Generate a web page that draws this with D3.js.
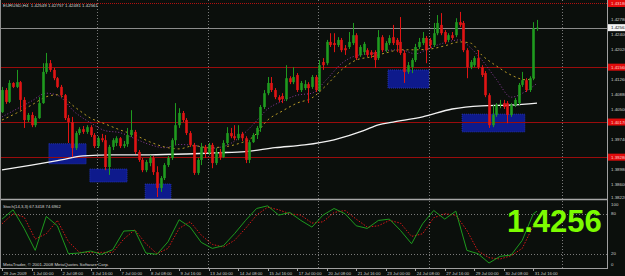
<!DOCTYPE html>
<html>
<head>
<meta charset="utf-8">
<script src="https://cdn.jsdelivr.net/npm/d3@7"></script>
<style>
  html, body { margin: 0; padding: 0; background: #0b0f0c; }
  svg { display: block; }
  text { font-family: "Liberation Sans", Arial, sans-serif; }
</style>
</head>
<body>
<div id="chart"></div>
<script>
// EURUSD H4, one candle per bar, 29 Jun 16:00 .. 31 Jul 20:00 2009
const open = [
  1.4042, 1.4098, 1.4068, 1.4116, 1.4106, 1.4118, 1.4073, 1.4022, 1.4035, 1.4009,
  1.4027, 1.4065, 1.4144, 1.4166, 1.4149, 1.4128, 1.4106, 1.4085, 1.4027, 1.4017,
  1.3951, 1.3989, 1.3999, 1.3992, 1.4004, 1.3984, 1.3956, 1.3976, 1.3971, 1.3903,
  1.3954, 1.3964, 1.3976, 1.3956, 1.3961, 1.3984, 1.3992, 1.3941, 1.3921, 1.3895,
  1.3913, 1.3926, 1.3890, 1.3850, 1.3875, 1.3908, 1.3926, 1.3971, 1.4009, 1.4040,
  1.4022, 1.3989, 1.3959, 1.3888, 1.3921, 1.3954, 1.3938, 1.3959, 1.3913, 1.3941,
  1.3928, 1.3964, 1.3989, 1.3981, 1.3976, 1.3987, 1.3976, 1.3921, 1.3966, 1.3984,
  1.4002, 1.4055, 1.4090, 1.4116, 1.4098, 1.4080, 1.4083, 1.4075, 1.4128, 1.4118,
  1.4136, 1.4098, 1.4103, 1.4113, 1.4106, 1.4131, 1.4098, 1.4169, 1.4166, 1.4220,
  1.4217, 1.4212, 1.4225, 1.4204, 1.4207, 1.4217, 1.4237, 1.4187, 1.4194, 1.4199,
  1.4194, 1.4194, 1.4179, 1.4232, 1.4199, 1.4217, 1.4232, 1.4225, 1.4220, 1.4192,
  1.4144, 1.4156, 1.4174, 1.4207, 1.4217, 1.4230, 1.4225, 1.4212, 1.4242, 1.4263,
  1.4245, 1.4225, 1.4237, 1.4237, 1.4270, 1.4268, 1.4199, 1.4156, 1.4161, 1.4179,
  1.4156, 1.4141, 1.4085, 1.4009, 1.4035, 1.4060, 1.4065, 1.4065, 1.4035, 1.4060,
  1.4065, 1.4111, 1.4123, 1.4098, 1.4128, 1.42549
];
const high = [
  1.4106, 1.4103, 1.4123, 1.4118, 1.4149, 1.4121, 1.4080, 1.4040, 1.4042, 1.4032,
  1.4080, 1.4166, 1.4192, 1.4174, 1.4154, 1.4131, 1.4111, 1.4088, 1.4035, 1.4030,
  1.3994, 1.4004, 1.4007, 1.4009, 1.4009, 1.3989, 1.3981, 1.3987, 1.3984, 1.3959,
  1.3976, 1.3981, 1.3979, 1.3969, 1.4002, 1.4047, 1.3997, 1.3946, 1.3926, 1.3921,
  1.3933, 1.3931, 1.3905, 1.3880, 1.3913, 1.3931, 1.3976, 1.4065, 1.4052, 1.4045,
  1.4027, 1.3994, 1.3964, 1.3926, 1.3964, 1.3959, 1.3964, 1.3964, 1.3951, 1.3949,
  1.3971, 1.4004, 1.4002, 1.4009, 1.4009, 1.3992, 1.3981, 1.3971, 1.3989, 1.4007,
  1.4060, 1.4098, 1.4131, 1.4131, 1.4103, 1.4085, 1.4090, 1.4161, 1.4133, 1.4156,
  1.4141, 1.4121, 1.4123, 1.4118, 1.4136, 1.4136, 1.4174, 1.4179, 1.4225, 1.4242,
  1.4242, 1.4232, 1.4230, 1.4212, 1.4245, 1.4268, 1.4242, 1.4212, 1.4220, 1.4204,
  1.4199, 1.4199, 1.4250, 1.4237, 1.4222, 1.4237, 1.4263, 1.4230, 1.4283, 1.4199,
  1.4169, 1.4179, 1.4215, 1.4230, 1.4245, 1.4235, 1.4230, 1.4268, 1.4288, 1.4293,
  1.4250, 1.4242, 1.4245, 1.4280, 1.4296, 1.4273, 1.4204, 1.4174, 1.4184, 1.4199,
  1.4161, 1.4146, 1.4090, 1.4060, 1.4065, 1.4073, 1.4073, 1.4070, 1.4065, 1.4078,
  1.4116, 1.4144, 1.4128, 1.4133, 1.4270, 1.42757
];
const low = [
  1.4040, 1.4063, 1.4065, 1.4103, 1.4103, 1.4047, 1.4002, 1.4017, 1.4004, 1.4004,
  1.4025, 1.4063, 1.4139, 1.4144, 1.4123, 1.4103, 1.4080, 1.4022, 1.3964, 1.3928,
  1.3946, 1.3984, 1.3987, 1.3987, 1.3979, 1.3951, 1.3951, 1.3966, 1.3895, 1.3883,
  1.3946, 1.3956, 1.3951, 1.3951, 1.3954, 1.3979, 1.3936, 1.3916, 1.3890, 1.3890,
  1.3905, 1.3883, 1.3827, 1.3840, 1.3870, 1.3903, 1.3921, 1.3959, 1.4002, 1.4017,
  1.3984, 1.3954, 1.3883, 1.3883, 1.3908, 1.3926, 1.3933, 1.3900, 1.3908, 1.3921,
  1.3926, 1.3959, 1.3976, 1.3971, 1.3971, 1.3969, 1.3913, 1.3913, 1.3964, 1.3974,
  1.3992, 1.4050, 1.4085, 1.4093, 1.4075, 1.4068, 1.4065, 1.4070, 1.4113, 1.4113,
  1.4093, 1.4093, 1.4098, 1.4065, 1.4101, 1.4093, 1.4093, 1.4149, 1.4161, 1.4207,
  1.4194, 1.4207, 1.4194, 1.4187, 1.4202, 1.4212, 1.4174, 1.4182, 1.4187, 1.4182,
  1.4179, 1.4154, 1.4174, 1.4194, 1.4194, 1.4212, 1.4212, 1.4194, 1.4187, 1.4116,
  1.4139, 1.4141, 1.4169, 1.4202, 1.4212, 1.4166, 1.4204, 1.4207, 1.4237, 1.4237,
  1.4215, 1.4220, 1.4225, 1.4232, 1.4258, 1.4194, 1.4128, 1.4151, 1.4156, 1.4151,
  1.4131, 1.4080, 1.4002, 1.4004, 1.4030, 1.4052, 1.4050, 1.4014, 1.4030, 1.4055,
  1.4060, 1.4106, 1.4093, 1.4093, 1.4123, 1.42481
];
const close = [
  1.4098, 1.4068, 1.4116, 1.4106, 1.4118, 1.4073, 1.4022, 1.4035, 1.4009, 1.4027,
  1.4065, 1.4144, 1.4166, 1.4149, 1.4128, 1.4106, 1.4085, 1.4027, 1.4017, 1.3951,
  1.3989, 1.3999, 1.3992, 1.4004, 1.3984, 1.3956, 1.3976, 1.3971, 1.3903, 1.3954,
  1.3971, 1.3976, 1.3956, 1.3961, 1.3984, 1.3997, 1.3941, 1.3921, 1.3895, 1.3916,
  1.3926, 1.3890, 1.3850, 1.3875, 1.3908, 1.3926, 1.3971, 1.4009, 1.4040, 1.4022,
  1.3989, 1.3959, 1.3888, 1.3921, 1.3954, 1.3938, 1.3959, 1.3913, 1.3941, 1.3928,
  1.3964, 1.3989, 1.3981, 1.3976, 1.3987, 1.3976, 1.3921, 1.3966, 1.3984, 1.4002,
  1.4055, 1.4090, 1.4116, 1.4098, 1.4080, 1.4073, 1.4075, 1.4128, 1.4118, 1.4131,
  1.4098, 1.4116, 1.4113, 1.4103, 1.4131, 1.4098, 1.4161, 1.4161, 1.4220, 1.4212,
  1.4212, 1.4225, 1.4199, 1.4199, 1.4220, 1.4237, 1.4179, 1.4207, 1.4215, 1.4187,
  1.4187, 1.4174, 1.4232, 1.4199, 1.4217, 1.4230, 1.4217, 1.4212, 1.4192, 1.4144,
  1.4161, 1.4174, 1.4207, 1.4220, 1.4230, 1.4199, 1.4212, 1.4242, 1.4268, 1.4242,
  1.4220, 1.4237, 1.4230, 1.4270, 1.4263, 1.4199, 1.4156, 1.4169, 1.4179, 1.4156,
  1.4136, 1.4085, 1.4009, 1.4035, 1.4060, 1.4063, 1.4055, 1.4035, 1.4060, 1.4073,
  1.4111, 1.4123, 1.4098, 1.4128, 1.4254, 1.42561
];

// moving averages (bar index -> price)
const maBars = [0, 4, 8, 12, 15, 20, 24, 28, 32, 36, 40, 44, 48, 52, 56, 60, 64, 68, 72, 76,
  80, 84, 88, 92, 96, 100, 104, 108, 112, 116, 120, 124, 127, 130, 134, 138, 142, 145];
const maYellow = [1.4022, 1.4040, 1.4060, 1.4081, 1.4086, 1.4053, 1.4027, 1.4012, 1.3997, 1.3984,
  1.3967, 1.3954, 1.3949, 1.3957, 1.3952, 1.3954, 1.3962, 1.3979, 1.4022, 1.4045,
  1.4065, 1.4078, 1.4111, 1.4149, 1.4174, 1.4182, 1.4192, 1.4200, 1.4200, 1.4202,
  1.4210, 1.4220, 1.4217, 1.4187, 1.4159, 1.4136, 1.4124, 1.4131];
const maPurple = [1.4030, 1.4050, 1.4070, 1.4090, 1.4085, 1.4040, 1.4015, 1.3995, 1.3990, 1.3975,
  1.3960, 1.3952, 1.3960, 1.3958, 1.3950, 1.3955, 1.3975, 1.4010, 1.4050, 1.4070,
  1.4085, 1.4090, 1.4125, 1.4165, 1.4185, 1.4190, 1.4198, 1.4200, 1.4190, 1.4205,
  1.4218, 1.4225, 1.4205, 1.4175, 1.4125, 1.4080, 1.4095, 1.4115];
const whiteBars = [0, 8, 16, 22, 30, 40, 50, 58, 66, 74, 82, 90, 98, 102, 106, 114, 122, 130, 138, 145];
const maWhite = [1.3896, 1.3908, 1.3921, 1.3931, 1.3934, 1.3934, 1.3936, 1.3939, 1.3942, 1.3952,
  1.3959, 1.3972, 1.3995, 1.4010, 1.4017, 1.4030, 1.4050, 1.4058, 1.4060, 1.4065];

// Stoch(14,3,3)
const stochBars = [0, 3, 6, 9, 12, 15, 18, 21, 24, 27, 30, 33, 36, 39, 42, 45, 48, 51, 54, 57,
  60, 63, 66, 69, 72, 75, 78, 81, 84, 87, 90, 93, 96, 99, 102, 105, 108, 111, 114, 117,
  120, 123, 126, 129, 132, 135, 138, 141, 144, 145];
const stochK = [72, 86, 58, 25, 76, 62, 20, 21, 24, 19, 26, 54, 55, 21, 19, 38, 71, 60, 37, 28,
  32, 50, 70, 88, 92, 78, 82, 70, 60, 78, 88, 80, 62, 58, 70, 72, 55, 35, 65, 85,
  72, 84, 25, 20, 6, 16, 18, 40, 80, 84];
const stochD = [65, 80, 75, 42, 50, 70, 38, 22, 22, 22, 22, 42, 56, 35, 20, 28, 58, 68, 48, 34,
  30, 40, 58, 78, 90, 86, 80, 78, 66, 68, 82, 85, 72, 60, 62, 70, 66, 46, 50, 74,
  80, 78, 55, 24, 14, 12, 17, 28, 62, 72];

// blue zones drawn on the chart
const zoneStart = [12.7, 23.8, 38.8, 104.6, 124.7];
const zoneEnd = [22.8, 33.9, 45.8, 115.7, 141.7];
const zoneTop = [1.3962, 1.3898, 1.3860, 1.4149, 1.4037];
const zoneBottom = [1.3911, 1.3865, 1.3815, 1.4103, 1.3992];

const redLines = [1.4156, 1.4017, 1.3928];
const topLine = 1.4318;
const bid = 1.42561;

const priceTicks = [1.4278, 1.4240, 1.4202, 1.4164, 1.4126, 1.4088, 1.4050, 1.4012, 1.3974, 1.3936, 1.3898, 1.3860, 1.3822];
const stochTicks = [100, 80, 20, 0];
const gridBars = [25.7, 55.8, 85.6, 115.7, 151.8];
const timeBars = [0, 8, 16, 24, 32, 40, 48, 56, 64, 72, 80, 88, 96, 104, 112, 120, 128, 136, 144];
const timeLabels = ["29 Jun 2009", "1 Jul 00:00", "2 Jul 08:00", "3 Jul 16:00", "7 Jul 00:00",
  "8 Jul 08:00", "9 Jul 16:00", "13 Jul 00:00", "14 Jul 08:00", "15 Jul 16:00", "17 Jul 00:00",
  "20 Jul 08:00", "21 Jul 16:00", "23 Jul 00:00", "24 Jul 08:00", "27 Jul 16:00", "29 Jul 00:00",
  "30 Jul 08:00", "31 Jul 16:00"];

const svgWidth = 625;
const svgHeight = 276;
const axisX = 607;
const mainBottom = 199.5;
const stochTop = 200.5;
const stochBottom = 268;

const x = d3.scaleLinear().domain([0, 145]).range([2, 537]);
const y = d3.scaleLinear().domain([1.3822, 1.4278]).range([199, 19]);
const ys = d3.scaleLinear().domain([0, 100]).range([267, 200.5]);

const svg = d3.select('#chart').append('svg')
  .attr('width', svgWidth)
  .attr('height', svgHeight);

svg.append('rect').attr('width', svgWidth).attr('height', svgHeight).attr('fill', '#0b0f0c');

const defs = svg.append('defs');
defs.append('clipPath').attr('id', 'clipMain')
  .append('rect').attr('x', 0).attr('y', 0).attr('width', axisX).attr('height', mainBottom);
defs.append('clipPath').attr('id', 'clipStoch')
  .append('rect').attr('x', 0).attr('y', stochTop).attr('width', axisX).attr('height', stochBottom - stochTop);

// vertical grid
svg.append('g').selectAll('line').data(gridBars).join('line')
  .attr('x1', (d) => Math.round(x(d)) + 0.5).attr('x2', (d) => Math.round(x(d)) + 0.5)
  .attr('y1', 0).attr('y2', stochBottom)
  .attr('stroke', '#7a7a7a').attr('stroke-width', 1).attr('stroke-dasharray', '1,2');

const main = svg.append('g').attr('clip-path', 'url(#clipMain)');

// zones
const zones = d3.range(zoneStart.length);
main.append('g').selectAll('rect').data(zones).join('rect')
  .attr('x', (i) => x(zoneStart[i]))
  .attr('y', (i) => y(zoneTop[i]))
  .attr('width', (i) => x(zoneEnd[i]) - x(zoneStart[i]))
  .attr('height', (i) => y(zoneBottom[i]) - y(zoneTop[i]))
  .attr('fill', '#0e1a8c')
  .attr('stroke', '#2a3cc0').attr('stroke-width', 0.8).attr('stroke-dasharray', '1,1');

// horizontal lines
main.append('g').selectAll('line').data(redLines).join('line')
  .attr('x1', 0).attr('x2', axisX)
  .attr('y1', (d) => Math.round(y(d)) + 0.5).attr('y2', (d) => Math.round(y(d)) + 0.5)
  .attr('stroke', '#9a0c0c').attr('stroke-width', 1);
main.append('line')
  .attr('x1', 0).attr('x2', axisX)
  .attr('y1', Math.round(y(topLine)) + 0.5).attr('y2', Math.round(y(topLine)) + 0.5)
  .attr('stroke', '#b01010').attr('stroke-width', 1).attr('stroke-dasharray', '1,1');
main.append('line')
  .attr('x1', 0).attr('x2', axisX)
  .attr('y1', Math.round(y(bid)) + 0.5).attr('y2', Math.round(y(bid)) + 0.5)
  .attr('stroke', '#8c8c8c').attr('stroke-width', 1);

// moving averages
const whiteLine = d3.line().curve(d3.curveMonotoneX)
  .x((d, i) => x(whiteBars[i])).y((d) => y(d));
main.append('path').datum(maWhite)
  .attr('fill', 'none').attr('stroke', '#f2f2f2').attr('stroke-width', 1.3)
  .attr('d', whiteLine);

const maLine = d3.line().curve(d3.curveMonotoneX)
  .x((d, i) => x(maBars[i])).y((d) => y(d));
main.append('path').datum(maPurple)
  .attr('fill', 'none').attr('stroke', '#8a3c9a').attr('stroke-width', 1)
  .attr('stroke-dasharray', '1,2').attr('d', maLine);
main.append('path').datum(maYellow)
  .attr('fill', 'none').attr('stroke', '#b89a28').attr('stroke-width', 1)
  .attr('stroke-dasharray', '2,3').attr('d', maLine);

// candles
const bars = d3.range(close.length);
const bodyW = 2.6;
const candle = main.append('g').selectAll('g').data(bars).join('g');
candle.append('line')
  .attr('x1', (i) => Math.round(x(i)) + 0.5).attr('x2', (i) => Math.round(x(i)) + 0.5)
  .attr('y1', (i) => y(high[i])).attr('y2', (i) => y(low[i]))
  .attr('stroke', (i) => close[i] >= open[i] ? '#1f9a1f' : '#e01414').attr('stroke-width', 1);
candle.append('rect')
  .attr('x', (i) => Math.round(x(i)) + 0.5 - bodyW / 2)
  .attr('y', (i) => y(Math.max(open[i], close[i])))
  .attr('width', bodyW)
  .attr('height', (i) => Math.max(1, Math.abs(y(open[i]) - y(close[i]))))
  .attr('fill', (i) => close[i] >= open[i] ? '#1f9a1f' : '#e01414');

// stochastic panel
const stoch = svg.append('g').attr('clip-path', 'url(#clipStoch)');
stoch.append('g').selectAll('line').data([80, 20]).join('line')
  .attr('x1', 0).attr('x2', axisX)
  .attr('y1', (d) => Math.round(ys(d)) + 0.5).attr('y2', (d) => Math.round(ys(d)) + 0.5)
  .attr('stroke', '#7a7a7a').attr('stroke-dasharray', '1,2');
const stochLine = d3.line().x((d, i) => x(stochBars[i])).y((d) => ys(d));
stoch.append('path').datum(stochD)
  .attr('fill', 'none').attr('stroke', '#d41818').attr('stroke-width', 1)
  .attr('stroke-dasharray', '1.5,1.5').attr('d', stochLine);
stoch.append('path').datum(stochK)
  .attr('fill', 'none').attr('stroke', '#1e9a1e').attr('stroke-width', 1)
  .attr('d', stochLine);

// frame
svg.append('line').attr('x1', 0).attr('x2', axisX).attr('y1', 199.5).attr('y2', 199.5)
  .attr('stroke', '#a8a8a8').attr('stroke-width', 1.5);
svg.append('line').attr('x1', 0).attr('x2', axisX).attr('y1', stochBottom + 0.5).attr('y2', stochBottom + 0.5)
  .attr('stroke', '#a0a0a0');
svg.append('line').attr('x1', axisX + 0.5).attr('x2', axisX + 0.5).attr('y1', 0).attr('y2', stochBottom + 1)
  .attr('stroke', '#a0a0a0');
svg.append('line').attr('x1', 0.5).attr('x2', 0.5).attr('y1', 0).attr('y2', stochBottom + 1)
  .attr('stroke', '#909090');

// price axis labels (the ones sitting under a line tag are covered, as in the terminal)
const axisText = '#cfcfcf';
const tagPrices = [topLine, bid].concat(redLines);
const freeTicks = priceTicks.filter((p) => tagPrices.every((t) => Math.abs(y(p) - y(t)) > 5));
svg.append('g').selectAll('text').data(freeTicks).join('text')
  .attr('x', axisX + 4).attr('y', (d) => Math.min(y(d) + 1.6, 198.5))
  .attr('font-size', 4.4).attr('fill', axisText)
  .text((d) => d.toFixed(5));

const redLabels = [topLine].concat(redLines);
const redTag = svg.append('g').selectAll('g').data(redLabels).join('g')
  .attr('transform', (d) => `translate(${axisX + 1}, ${Math.max(3.5, y(d))})`);
redTag.append('rect').attr('x', 0).attr('y', -3.5).attr('width', 18).attr('height', 7).attr('fill', '#e10c0c');
redTag.append('text').attr('x', 3).attr('y', 1.6).attr('font-size', 4.4).attr('fill', '#ffd0d0')
  .text((d) => d.toFixed(5));

const bidTag = svg.append('g').attr('transform', `translate(${axisX + 1}, ${y(bid)})`);
bidTag.append('rect').attr('x', 0).attr('y', -3.5).attr('width', 18).attr('height', 7).attr('fill', '#f4f4f4');
bidTag.append('text').attr('x', 3).attr('y', 1.6).attr('font-size', 4.4).attr('fill', '#111')
  .text(bid.toFixed(5));

svg.append('g').selectAll('text').data(stochTicks).join('text')
  .attr('x', axisX + 4).attr('y', (d) => Math.min(Math.max(ys(d) + 1.6, 205.5), 265.5))
  .attr('font-size', 4.4).attr('fill', axisText)
  .text((d) => d);

// time axis
svg.append('g').selectAll('line').data(timeBars).join('line')
  .attr('x1', (d) => Math.round(x(d)) + 0.5).attr('x2', (d) => Math.round(x(d)) + 0.5)
  .attr('y1', stochBottom).attr('y2', stochBottom + 3)
  .attr('stroke', '#a0a0a0');
svg.append('g').selectAll('text').data(timeBars).join('text')
  .attr('x', (d) => x(d) + 1.5).attr('y', 274.5)
  .attr('font-size', 4.2).attr('fill', axisText)
  .text((d, i) => timeLabels[i]);

// captions
svg.append('text').attr('x', 3).attr('y', 7).attr('font-size', 4.4).attr('fill', '#d8d8d8')
  .attr('xml:space', 'preserve')
  .text(`EURUSD,H4  ${open[145].toFixed(5)} ${high[145].toFixed(5)} ${low[145].toFixed(5)} ${close[145].toFixed(5)}`);
svg.append('text').attr('x', 3).attr('y', 207.5).attr('font-size', 4.2).attr('fill', '#d8d8d8')
  .text('Stoch(14,3,3) 67.3418 74.6962');
svg.append('text').attr('x', 3).attr('y', 266).attr('font-size', 4.4).attr('fill', '#d8d8d8')
  .text('MetaTrader, © 2001-2008 MetaQuotes Software Corp.');

svg.append('text').attr('x', 507).attr('y', 231.5)
  .attr('font-size', 31).attr('font-weight', 'bold').attr('fill', '#7cfc00')
  .text(bid.toFixed(4));
</script>
</body>
</html>
